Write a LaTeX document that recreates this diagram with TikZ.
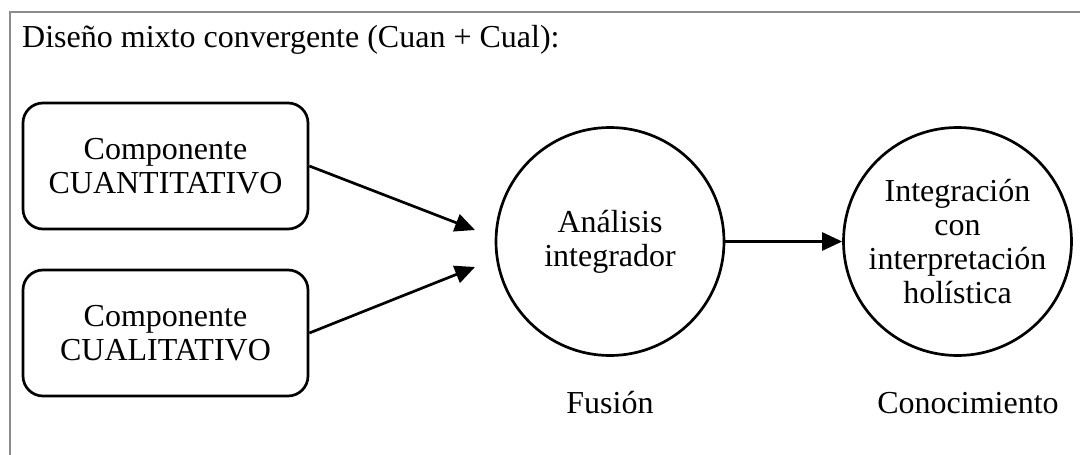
\documentclass[tikz,border=0pt]{standalone}
\usepackage{fontspec}
\setmainfont{Liberation Serif}
\usepackage{xcolor}
\usepackage{tikz}
\usetikzlibrary{arrows.meta}
\definecolor{FrameGray}{RGB}{140, 140, 140}

\begin{document}
\begin{tikzpicture}[x=1pt, y=-1pt,
    font=\fontsize{32}{34}\selectfont,
    comp/.style={draw, line width=2.7pt, rounded corners=20pt, minimum width=285pt, minimum height=126pt, align=center},
    circ/.style={draw, circle, line width=2.7pt, minimum size=228pt, inner sep=0pt, align=center},
    arr/.style={line width=2.7pt, -{Triangle[length=20pt, width=18pt]}}]
        \useasboundingbox (0,0) rectangle (1080,455);

        % Frame
        \draw[FrameGray, line width=2pt] (10,456) -- (10,12) -- (1081,12);

        % Title
        \node[anchor=base west, inner sep=0pt] (title) at (22,47) {Diseño mixto convergente (Cuan + Cual):};

        % Components
        \node[comp] (cuan) at (165.5,166) {Componente\\CUANTITATIVO};
        \node[comp] (cual) at (165.5,333) {Componente\\CUALITATIVO};

        % Circles
        \node[circ] (fus) at (610,241.5) {Análisis\\integrador};
        \node[circ] (con) at (957.5,241.5) {Integración\\con\\interpretación\\holística};

        % Labels
        \node[anchor=base] (fuslbl) at (610,413) {Fusión};
        \node[anchor=base] (conlbl) at (968,413) {Conocimiento};

        % Arrows
        \coordinate (in1) at (475,230);
        \coordinate (in2) at (475,267);
        \draw[arr] (cuan.east) -- (in1);
        \draw[arr] (cual.east) -- (in2);
        \draw[arr] (fus.east) -- (con.west);
    \end{tikzpicture}
\end{document}
